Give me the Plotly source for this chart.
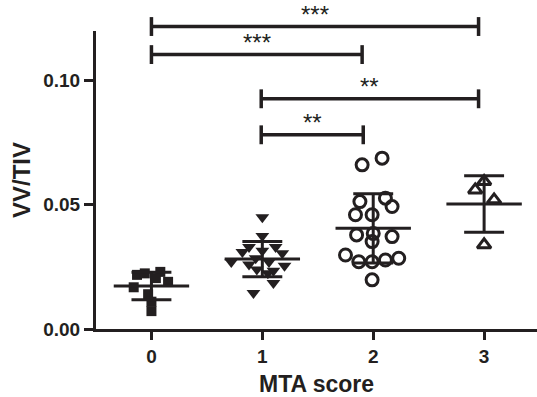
import plotly.graph_objects as go
import numpy as np

# ---- data ----
categories = [0, 1, 2, 3]
tick_labels = ["0", "1", "2", "3"]

g0_values = [0.0218, 0.0224, 0.0230, 0.0205, 0.0190, 0.0168, 0.0140, 0.0110, 0.0072]
g0_jitter = [-0.13, -0.06, 0.08, 0.04, 0.15, -0.16, -0.03, 0.00, 0.00]

g1_values = [0.0450, 0.0375, 0.0330, 0.0330, 0.0315, 0.0310, 0.0305, 0.0285, 0.0270,
             0.0270, 0.0255, 0.0260, 0.0235, 0.0240, 0.0225, 0.0185, 0.0145]
g1_jitter = [0.00, 0.00, -0.12, 0.12, 0.00, -0.18, 0.18, -0.06, 0.06,
             -0.28, 0.20, -0.12, 0.10, -0.05, 0.05, 0.10, -0.08]

g2_values = [0.0661, 0.0688, 0.0513, 0.0527, 0.0460, 0.0460, 0.0493, 0.0379, 0.0385,
             0.0372, 0.0352, 0.0298, 0.0271, 0.0271, 0.0278, 0.0285, 0.0198]
g2_jitter = [-0.10, 0.08, -0.12, 0.11, -0.16, -0.01, 0.17, -0.15, 0.00,
             0.17, -0.01, -0.25, -0.13, -0.01, 0.11, 0.23, -0.01]

g3_values = [0.0594, 0.0560, 0.0520, 0.0339]
g3_jitter = [0.00, -0.08, 0.09, 0.00]

# significance brackets: (from, to, level, label)
bracket_from = [0.0, 0.0, 0.99, 0.99]
bracket_to = [2.95, 1.90, 2.95, 1.91]
bracket_level = [0.1218, 0.1105, 0.0927, 0.0782]
bracket_label = ["***", "***", "**", "**"]

groups = [g0_values, g1_values, g2_values, g3_values]
jitters = [g0_jitter, g1_jitter, g2_jitter, g3_jitter]

# ---- style ----
INK = "#231f20"
FONT = "Liberation Sans, Arial, sans-serif"
YMAX = 0.12
marker_styles = [
    dict(symbol="square", size=10, color=INK),
    dict(symbol="triangle-down", size=12, color=INK),
    dict(symbol="circle-open", size=12, color=INK, line=dict(width=3, color=INK)),
    dict(symbol="triangle-up-open", size=12, color=INK, line=dict(width=3, color=INK)),
]
MEAN_HALF = 0.34
CAP_HALF = 0.18

fig = go.Figure()

for cat, vals, jit, ms in zip(categories, groups, jitters, marker_styles):
    fig.add_trace(go.Scatter(
        x=[cat + j for j in jit], y=vals, mode="markers",
        marker=ms, showlegend=False, cliponaxis=False, hoverinfo="y"))

for cat, vals in zip(categories, groups):
    arr = np.array(vals)
    m = arr.mean()
    sd = arr.std(ddof=1)
    line = dict(color=INK, width=3)
    fig.add_trace(go.Scatter(x=[cat - MEAN_HALF, cat + MEAN_HALF], y=[m, m],
                             mode="lines", line=line, showlegend=False, hoverinfo="skip"))
    fig.add_trace(go.Scatter(x=[cat - CAP_HALF, cat + CAP_HALF, None, cat - CAP_HALF, cat + CAP_HALF,
                                None, cat, cat],
                             y=[m + sd, m + sd, None, m - sd, m - sd, None, m - sd, m + sd],
                             mode="lines", line=line, showlegend=False, hoverinfo="skip"))

CAP = 0.0038
for x0, x1, lvl, lab in zip(bracket_from, bracket_to, bracket_level, bracket_label):
    for xa, xb, ya, yb in [(x0, x1, lvl, lvl), (x0, x0, lvl - CAP, lvl + CAP), (x1, x1, lvl - CAP, lvl + CAP)]:
        fig.add_shape(type="line", xref="x", yref="paper", x0=xa, x1=xb,
                      y0=ya / YMAX, y1=yb / YMAX, line=dict(color=INK, width=3.5))
    fig.add_annotation(x=(x0 + x1) / 2, y=lvl / YMAX, xref="x", yref="paper",
                       text=lab, showarrow=False, yanchor="bottom", yshift=-3,
                       font=dict(family=FONT, size=24, color=INK))

fig.update_layout(
    width=537, height=397,
    margin=dict(l=95.5, r=0, t=31.4, b=68),
    plot_bgcolor="white", paper_bgcolor="white",
    font=dict(family=FONT, color=INK),
)
fig.update_xaxes(
    range=[-0.5, 3.477], tickvals=categories, ticktext=tick_labels,
    showline=True, linecolor=INK, linewidth=3, ticks="outside", ticklen=8,
    tickwidth=3, tickcolor=INK, showgrid=False, zeroline=False, automargin=False,
    tickfont=dict(family=FONT, size=19, color=INK, weight="bold"),
    title=dict(text="<b>MTA score</b>", font=dict(family=FONT, size=23, color=INK), standoff=12),
)
fig.update_yaxes(
    range=[0, YMAX], tickvals=[0, 0.05, 0.10], ticktext=["0.00", "0.05", "0.10"],
    showline=True, linecolor=INK, linewidth=3, ticks="outside", ticklen=9,
    tickwidth=3, tickcolor=INK, showgrid=False, zeroline=False, automargin=False,
    tickfont=dict(family=FONT, size=19, color=INK, weight="bold"),
    title=dict(text="<b>VV/TIV</b>", font=dict(family=FONT, size=24, color=INK), standoff=6),
)

fig.write_html("out.html", config={"displayModeBar": False},
               post_script="document.body.style.margin='0px';")
